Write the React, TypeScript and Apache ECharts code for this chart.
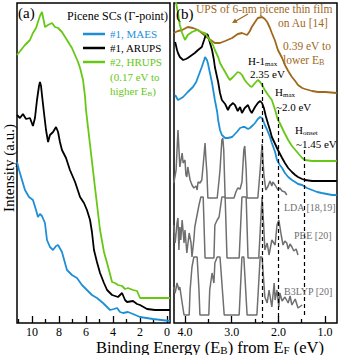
import React, { useEffect, useRef } from 'react';
import * as echarts from 'echarts';

const SERIF = '"Liberation Serif", "Times New Roman", "DejaVu Serif", serif';
const BLUE = '#1d8fd6';
const GREEN = '#66c814';
const BLACK = '#000000';
const BROWN = '#a0681c';
const GRAY = '#6f6f6f';

// Panel (a): [binding energy (eV), intensity (a.u.)]
const aMAES: number[][] = [[11.11,161],[10.96,153],[10.74,143],[10.52,133],[10.22,126],[9.93,123],[9.70,113],[9.56,106],[9.41,109],[9.26,107],[9.04,100],[8.89,83],[8.67,76],[8.44,73],[8.22,77],[8.07,78],[7.78,71],[7.41,53],[7.04,48],[6.67,45],[6.30,38],[5.93,33],[5.56,28],[5.19,25],[4.74,20],[4.22,13],[3.93,14],[3.70,15],[3.48,11],[3.26,10],[2.89,11],[2.52,9],[2.00,6],[1.04,4],[-0.22,2]];
const aARUPS: number[][] = [[11.11,208],[10.89,205],[10.67,209],[10.44,204],[10.15,205],[9.93,197],[9.78,205],[9.63,223],[9.48,237],[9.41,241],[9.33,237],[9.26,228],[9.11,210],[8.96,193],[8.81,181],[8.67,188],[8.44,191],[8.22,196],[8.07,191],[7.93,181],[7.78,173],[7.48,165],[7.19,153],[6.81,141],[6.44,126],[6.15,120],[5.93,113],[5.70,103],[5.56,91],[5.41,73],[5.19,61],[4.96,50],[4.67,40],[4.44,33],[4.07,28],[3.63,26],[3.33,30],[3.11,23],[2.96,21],[2.52,22],[2.22,19],[2.00,18],[1.48,14],[0.89,13],[-0.22,13]];
const aHRUPS: number[][] = [[11.11,268],[10.52,278],[10.15,283],[9.93,290],[9.70,295],[9.56,301],[9.41,307],[9.26,311],[9.11,301],[9.04,296],[8.81,298],[8.67,299],[8.52,300],[8.30,296],[8.07,295],[7.78,291],[7.41,283],[7.04,275],[6.59,261],[6.44,255],[6.22,243],[6.07,226],[6.00,213],[5.70,178],[5.33,135],[4.96,93],[4.67,71],[4.44,60],[4.07,41],[3.85,40],[3.63,38],[3.33,37],[3.11,34],[2.89,35],[2.52,33],[2.22,32],[2.00,25],[1.04,25],[-0.22,25]];

// Panel (b)
const bFilm: number[][] = [[4.24,290],[4.15,292],[4.06,293],[3.94,296],[3.83,295],[3.72,293],[3.64,290],[3.51,285],[3.36,280],[3.25,280],[3.14,282],[2.99,285],[2.87,289],[2.78,290],[2.67,288],[2.61,292],[2.57,296],[2.50,301],[2.44,305],[2.35,306],[2.29,304],[2.24,301],[2.18,295],[2.14,290],[2.07,282],[2.01,273],[1.92,265],[1.86,258],[1.79,252],[1.71,246],[1.64,242],[1.58,238],[1.49,235],[1.43,234],[1.28,232],[1.15,231],[1.00,231],[0.75,230]];
const bHRUPS: number[][] = [[4.21,325],[4.17,315],[4.15,310],[4.11,298],[4.06,290],[4.00,283],[3.94,288],[3.85,291],[3.74,293],[3.64,291],[3.57,290],[3.53,287],[3.47,283],[3.40,278],[3.36,273],[3.29,266],[3.25,260],[3.19,255],[3.14,251],[3.08,246],[3.04,243],[2.97,246],[2.93,248],[2.87,251],[2.82,250],[2.78,248],[2.72,243],[2.67,240],[2.61,237],[2.57,236],[2.50,240],[2.44,243],[2.39,241],[2.35,238],[2.29,233],[2.22,228],[2.14,223],[2.07,213],[2.01,203],[1.97,200],[1.88,191],[1.79,183],[1.71,177],[1.60,171],[1.49,165],[1.43,163],[1.28,162],[1.07,162],[0.75,162]];
const bARUPS: number[][] = [[4.21,281],[4.17,273],[4.15,270],[4.11,266],[4.04,263],[3.98,264],[3.94,265],[3.85,268],[3.79,270],[3.72,273],[3.64,276],[3.59,283],[3.57,286],[3.53,289],[3.51,288],[3.47,281],[3.42,273],[3.38,263],[3.36,256],[3.29,241],[3.25,230],[3.21,223],[3.14,219],[3.08,213],[3.04,217],[2.97,220],[2.93,218],[2.87,212],[2.82,216],[2.78,210],[2.72,215],[2.65,218],[2.61,213],[2.57,210],[2.50,216],[2.44,220],[2.39,222],[2.35,220],[2.31,215],[2.27,207],[2.22,199],[2.18,193],[2.14,186],[2.07,179],[2.01,173],[1.92,165],[1.86,160],[1.79,155],[1.71,151],[1.64,148],[1.58,146],[1.49,144],[1.43,143],[1.28,142],[1.07,142],[0.75,142]];
const bMAES: number[][] = [[4.21,228],[4.15,223],[4.11,224],[4.04,226],[3.94,231],[3.83,236],[3.76,241],[3.72,246],[3.68,251],[3.64,256],[3.59,263],[3.57,266],[3.53,263],[3.51,260],[3.47,251],[3.42,240],[3.36,223],[3.31,211],[3.29,203],[3.25,193],[3.21,188],[3.14,185],[3.08,185],[2.99,186],[2.93,189],[2.89,191],[2.82,195],[2.76,196],[2.72,196],[2.65,194],[2.61,195],[2.54,198],[2.50,200],[2.44,204],[2.39,206],[2.35,205],[2.33,203],[2.29,198],[2.24,193],[2.18,186],[2.14,180],[2.07,171],[2.03,163],[1.97,158],[1.92,155],[1.86,150],[1.79,146],[1.71,143],[1.64,141],[1.58,139],[1.49,138],[1.39,135],[1.28,133],[1.17,131],[1.07,130],[0.85,128],[0.75,128]];
const bLDA: number[][] = [[4.24,140],[4.19,153],[4.15,193],[4.11,156],[4.06,170],[4.04,160],[4.00,163],[3.98,148],[3.96,146],[3.94,156],[3.89,143],[3.85,138],[3.81,135],[3.76,137],[3.74,133],[3.72,141],[3.68,140],[3.64,143],[3.61,158],[3.57,180],[3.55,163],[3.53,150],[3.51,125],[3.31,125],[3.27,143],[3.25,153],[3.21,183],[3.19,185],[3.17,173],[3.14,125],[2.95,125],[2.91,131],[2.87,135],[2.82,134],[2.78,141],[2.74,173],[2.72,177],[2.69,153],[2.67,125],[2.44,125],[2.39,153],[2.35,179],[2.31,148],[2.27,133],[2.22,137],[2.18,142],[2.14,137],[2.12,141],[2.07,138],[2.01,133],[1.97,135],[1.92,132],[1.86,131],[1.82,128]];
const bPBE: number[][] = [[4.24,98],[4.21,80],[4.17,100],[4.15,105],[4.13,73],[4.11,96],[4.09,83],[4.06,103],[4.02,80],[4.00,93],[3.96,70],[3.91,90],[3.87,80],[3.85,66],[3.81,83],[3.79,96],[3.70,118],[3.66,126],[3.61,126],[3.57,65],[3.38,65],[3.36,98],[3.31,103],[3.27,106],[3.21,126],[3.14,126],[3.10,65],[2.84,65],[2.78,126],[2.69,126],[2.65,65],[2.42,65],[2.35,126],[2.31,93],[2.29,73],[2.24,80],[2.20,68],[2.14,83],[2.07,78],[2.03,98],[1.99,103],[1.94,88],[1.90,78],[1.86,82],[1.82,80],[1.79,74],[1.75,79],[1.71,76],[1.67,72],[1.62,74],[1.58,68]];
const bB3LYP: number[][] = [[4.24,36],[4.21,30],[4.17,40],[4.13,33],[4.11,36],[4.06,20],[4.02,8],[3.91,8],[3.89,33],[3.85,56],[3.81,66],[3.74,66],[3.70,33],[3.68,8],[3.49,8],[3.47,33],[3.42,50],[3.38,40],[3.36,60],[3.31,66],[3.25,66],[3.16,8],[2.84,8],[2.78,66],[2.74,66],[2.67,8],[2.46,8],[2.39,66],[2.35,66],[2.29,26],[2.24,20],[2.20,33],[2.14,16],[2.09,40],[2.07,23],[2.03,33],[1.99,16],[1.97,30],[1.92,22],[1.86,26],[1.79,20],[1.75,27],[1.71,18],[1.64,24],[1.58,15],[1.49,18]];

// Ticks
const aTickLabels = [0, 2, 4, 6, 8, 10];
const aMinorTicks = [1, 3, 5, 7, 9, 11];
const bTickLabels = [1, 2, 3, 4];
const bMinorTicks = [1.5, 2.5, 3.5];
// dashed markers: [energy, top intensity, bottom intensity]
const dashMarks = [[2.35, 240, 0], [2.0, 213, 0], [1.45, 173, 5]];

const legendNames = ['#1, MAES', '#1, ARUPS', '#2, HRUPS'];

function richStyles(size: number, color: string) {
  const sub = Math.round(size * 0.68);
  return {
    n: { fontSize: size, fontFamily: SERIF, fill: color, color, lineHeight: size + 1 },
    s: { fontSize: sub, fontFamily: SERIF, fill: color, color, lineHeight: sub, verticalAlign: 'bottom' },
  };
}

function txt(x: number, y: number, text: string, color: string, size: number, extra: any = {}) {
  return {
    type: 'text', x, y, silent: true, z: 100,
    style: {
      text, fill: color, font: `${size}px ${SERIF}`,
      align: extra.align || 'left', textAlign: extra.align || 'left',
      verticalAlign: 'middle', textVerticalAlign: 'middle',
      ...(extra.rich ? { rich: extra.rich } : {}),
    },
  };
}

function axisPair(grid: number, min: number, max: number, major: number[], minor: number[], fmt?: (v: number) => string) {
  return [
    {
      gridIndex: grid, type: 'value', min, max, inverse: true, position: 'bottom',
      axisLine: { show: false }, splitLine: { show: false },
      axisTick: { show: true, inside: true, length: 7, customValues: major, lineStyle: { color: '#000', width: 1.3 } },
      axisLabel: { show: true, customValues: major, margin: 3, fontSize: 12, fontFamily: SERIF, color: '#000', formatter: fmt },
    },
    {
      gridIndex: grid, type: 'value', min, max, inverse: true, position: 'bottom',
      axisLine: { show: false }, splitLine: { show: false },
      axisTick: { show: true, inside: true, length: 4, customValues: minor, lineStyle: { color: '#000', width: 1.3 } },
      axisLabel: { show: false },
    },
  ];
}

function line(name: string, data: number[][], color: string, xi: number, yi: number, width = 1.8, extra: any = {}) {
  return {
    name, type: 'line', data, xAxisIndex: xi, yAxisIndex: yi, color,
    showSymbol: false, symbol: 'none', clip: true, silent: true,
    lineStyle: { color, width }, ...extra,
  };
}

export default function App() {
  const ref = useRef<HTMLDivElement>(null);
  useEffect(() => {
    if (!ref.current) return;
    const chart = echarts.init(ref.current, null, { renderer: 'svg' });
    const a = (t: string) => `{n|${t}}`;
    const option: any = {
      animation: false,
      backgroundColor: '#ffffff',
      grid: [
        { left: 17, top: 3, width: 153, height: 320, show: true, borderColor: '#000', borderWidth: 1.5, backgroundColor: 'transparent' },
        { left: 174, top: 3, width: 163, height: 320, show: true, borderColor: '#000', borderWidth: 1.5, backgroundColor: 'transparent' },
      ],
      xAxis: [
        ...axisPair(0, -0.22, 11.11, aTickLabels, aMinorTicks),
        ...axisPair(1, 0.745, 4.235, bTickLabels, bMinorTicks, (v: number) => v.toFixed(1)),
      ],
      yAxis: [
        { gridIndex: 0, type: 'value', min: 0, max: 320, show: false },
        { gridIndex: 1, type: 'value', min: 0, max: 320, show: false },
      ],
      legend: {
        data: [
          { name: legendNames[0], textStyle: { color: BLUE } },
          { name: legendNames[1], textStyle: { color: BLACK } },
          { name: legendNames[2], textStyle: { color: GREEN } },
        ],
        left: 83, top: 27, orient: 'vertical', itemGap: 0, itemWidth: 22, itemHeight: 2.5,
        icon: 'rect', padding: 0, selectedMode: false,
        textStyle: { fontSize: 11, fontFamily: SERIF, lineHeight: 14 },
      },
      series: [
        line(legendNames[0], aMAES, BLUE, 0, 0),
        line(legendNames[1], aARUPS, BLACK, 0, 0),
        line(legendNames[2], aHRUPS, GREEN, 0, 0),
        line('LDA', bLDA, GRAY, 2, 1, 1.5),
        line('PBE', bPBE, GRAY, 2, 1, 1.5),
        line('B3LYP', bB3LYP, GRAY, 2, 1, 1.5),
        line('UPS film', bFilm, BROWN, 2, 1, 1.8),
        line('MAES (b)', bMAES, BLUE, 2, 1),
        line('ARUPS (b)', bARUPS, BLACK, 2, 1),
        line('HRUPS (b)', bHRUPS, GREEN, 2, 1, 1.8, {
          markLine: {
            silent: true, symbol: ['none', 'none'], label: { show: false },
            lineStyle: { type: [4, 3], color: '#000', width: 1.2 },
            data: dashMarks.map((m) => [{ coord: [m[0], m[1]] }, { coord: [m[0], m[2]] }]),
          },
        }),
      ],
      graphic: [
        txt(18, 13, '(a)', '#000', 15),
        txt(67, 16, 'Picene SCs (Γ-point)', '#000', 12),
        txt(110, 77, '(0.17 eV to', GREEN, 11),
        txt(110, 91, a('higher E') + '{s|B}' + a(')'), GREEN, 11, { rich: richStyles(11, GREEN) }),
        txt(176, 14, '(b)', '#000', 15),
        txt(196, 9, 'UPS of 6-nm picene thin film', BROWN, 11.5),
        txt(278, 23, 'on Au [14]', BROWN, 11.5),
        txt(283, 46, '0.39 eV to', BROWN, 11.5),
        txt(283, 60, a('lower E') + '{s|B}', BROWN, 11.5, { rich: richStyles(11.5, BROWN) }),
        txt(248, 61, a('H-1') + '{s|max}', '#000', 11, { rich: richStyles(11, '#000') }),
        txt(250, 74, '2.35 eV', '#000', 11),
        txt(275, 92, a('H') + '{s|max}', '#000', 11, { rich: richStyles(11, '#000') }),
        txt(276, 107, '~2.0 eV', '#000', 11),
        txt(295, 130, a('H') + '{s|onset}', '#000', 11, { rich: richStyles(11, '#000') }),
        txt(296, 144, '~1.45 eV', '#000', 11),
        txt(284, 207, 'LDA [18,19]', GRAY, 10),
        txt(294, 235, 'PBE [20]', GRAY, 10),
        txt(284, 291, 'B3LYP [20]', GRAY, 10),
        txt(210, 347, a('Binding Energy (E') + '{s|B}' + a(') from E') + '{s|F}' + a('\u00a0(eV)'), '#000', 16.5, { align: 'center', rich: richStyles(16.5, '#000') }),
        {
          type: 'text', x: 9, y: 168, rotation: Math.PI / 2, silent: true,
          style: { text: 'Intensity (a.u.)', fill: '#000', font: `15px ${SERIF}`, align: 'center', textAlign: 'center', verticalAlign: 'middle', textVerticalAlign: 'middle' },
        },
        { type: 'line', silent: true, z: 100, shape: { x1: 248, y1: 14, x2: 235, y2: 21.5 }, style: { stroke: BROWN, lineWidth: 1.2 } },
        { type: 'polygon', silent: true, z: 100, shape: { points: [[232, 23], [237.6, 22.7], [235.1, 18.4]] }, style: { fill: BROWN } },
      ],
    };
    chart.setOption(option);
    return () => chart.dispose();
  }, []);
  return (
    <div
      ref={ref}
      style={{ position: 'fixed', left: 0, top: 0, width: 339, height: 355, background: '#fff' }}
    />
  );
}
